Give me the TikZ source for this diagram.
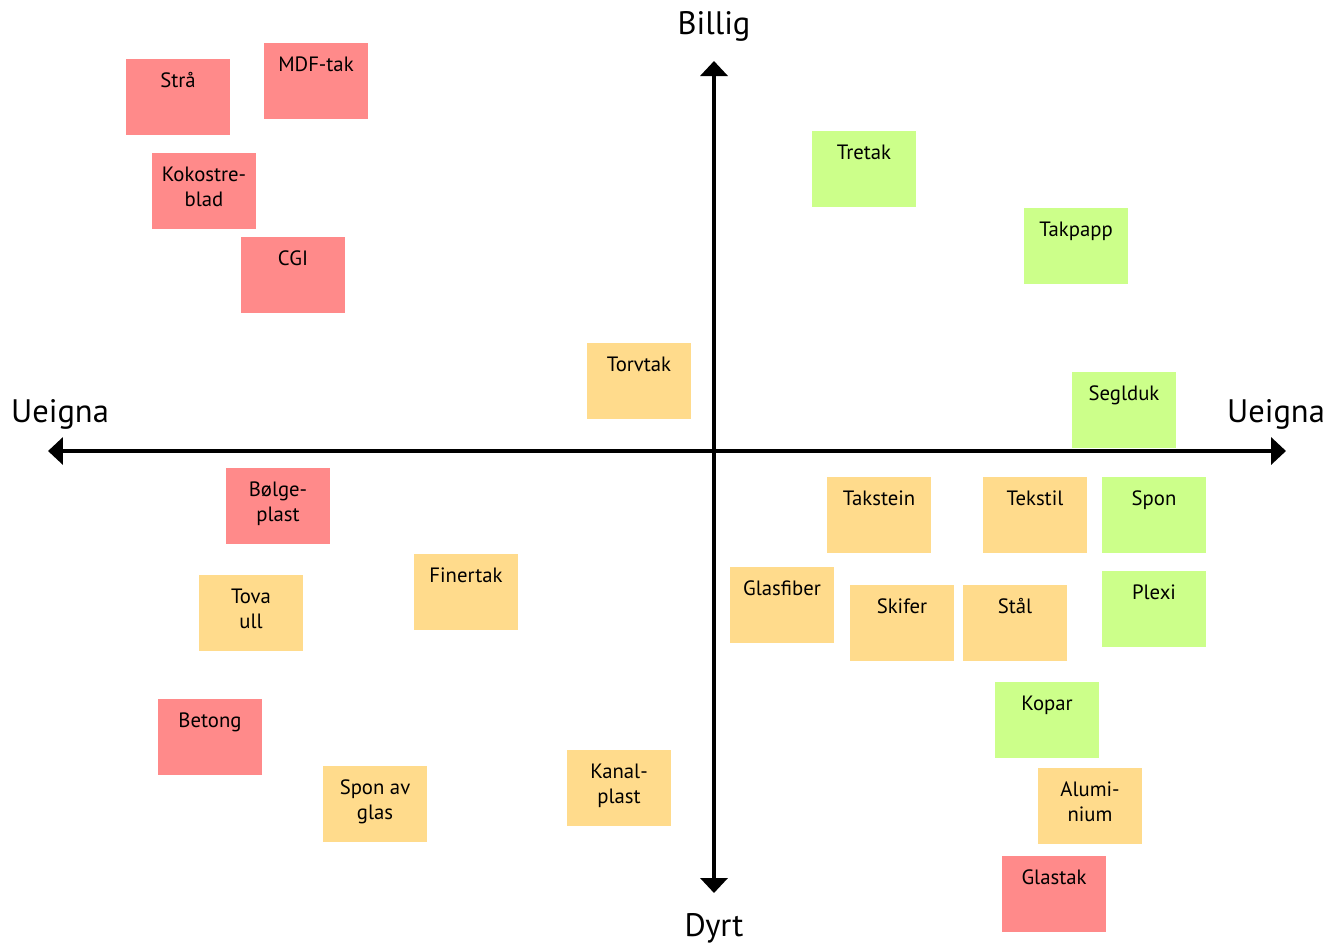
\documentclass[tikz,border=0pt]{standalone}
\usepackage{fontspec}
\setmainfont{PT Sans}
\usetikzlibrary{arrows.meta}

\definecolor{redc}{HTML}{FF8A8A}
\definecolor{yelc}{HTML}{FFDB8C}
\definecolor{grnc}{HTML}{CCFF8A}

\tikzset{
  tag/.style={anchor=north, inner sep=0pt, yshift=-0.23cm, align=center,
    font=\fontsize{11.8}{14.2}\selectfont},
  card/.style 2 args={draw=none, fill=#1, minimum width=2.08cm,
    minimum height=1.52cm, inner sep=0pt, label={[tag]north:{\strut #2}}},
  axis/.style={line width=0.08cm, {Triangle[length=0.3cm,width=0.54cm]}-{Triangle[length=0.3cm,width=0.54cm]}},
  axislabel/.style={anchor=base, inner sep=0pt, font=\fontsize{18.5}{22}\selectfont}
}

\begin{document}
\begin{tikzpicture}[x=0.02cm, y=-0.02cm]
  \useasboundingbox (0, 0) rectangle (1343, 951);

  % Axes
  \coordinate (west) at (48, 451);
  \coordinate (east) at (1286, 451);
  \coordinate (north) at (714, 61);
  \coordinate (south) at (714, 893);
  \draw [axis] (west) -- (east);
  \draw [axis] (north) -- (south);
  \node [axislabel] (cheap) at (714, 34) {Billig};
  \node [axislabel] (dear) at (714, 936) {Dyrt};
  \node [axislabel] (unfitl) at (60, 422) {Ueigna};
  \node [axislabel] (unfitr) at (1276, 422) {Ueigna};

  % Upper left
  \node [card={redc}{Strå}] (stra) at (178, 97) {};
  \node [card={redc}{MDF-tak}] (mdf) at (316, 81) {};
  \node [card={redc}{Kokostre-\\blad}] (koko) at (204, 191) {};
  \node [card={redc}{CGI}] (cgi) at (293, 275) {};
  \node [card={yelc}{Torvtak}] (torv) at (639, 381) {};

  % Upper right
  \node [card={grnc}{Tretak}] (tre) at (864, 169) {};
  \node [card={grnc}{Takpapp}] (papp) at (1076, 246) {};
  \node [card={grnc}{Seglduk}] (segl) at (1124, 410) {};

  % Lower left
  \node [card={redc}{Bølge-\\plast}] (bolge) at (278, 506) {};
  \node [card={yelc}{Tova\\ull}] (tova) at (251, 613) {};
  \node [card={yelc}{Finertak}] (finer) at (466, 592) {};
  \node [card={redc}{Betong}] (betong) at (210, 737) {};
  \node [card={yelc}{Spon av\\glas}] (sponglas) at (375, 804) {};
  \node [card={yelc}{Kanal-\\plast}] (kanal) at (619, 788) {};

  % Lower right
  \node [card={yelc}{Takstein}] (stein) at (879, 515) {};
  \node [card={yelc}{Tekstil}] (tekstil) at (1035, 515) {};
  \node [card={grnc}{Spon}] (spon) at (1154, 515) {};
  \node [card={yelc}{Glasfiber}] (fiber) at (782, 605) {};
  \node [card={yelc}{Skifer}] (skifer) at (902, 623) {};
  \node [card={yelc}{Stål}] (stal) at (1015, 623) {};
  \node [card={grnc}{Plexi}] (plexi) at (1154, 609) {};
  \node [card={grnc}{Kopar}] (kopar) at (1047, 720) {};
  \node [card={yelc}{Alumi-\\nium}] (alu) at (1090, 806) {};
  \node [card={redc}{Glastak}] (glastak) at (1054, 894) {};
\end{tikzpicture}
\end{document}
